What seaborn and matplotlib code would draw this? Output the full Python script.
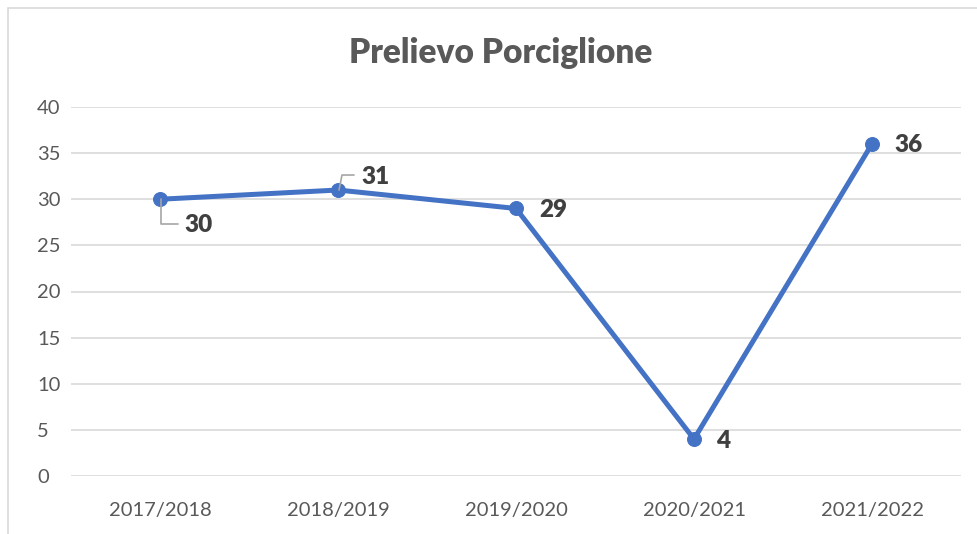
import matplotlib
matplotlib.use("Agg")
import matplotlib.pyplot as plt
import seaborn as sns
import pandas as pd
from matplotlib.patches import Rectangle

stagioni = ["2017/2018", "2018/2019", "2019/2020", "2020/2021", "2021/2022"]
prelievo = [30, 31, 29, 4, 36]
y_ticks = [0, 5, 10, 15, 20, 25, 30, 35, 40]

sns.set_theme(style="white")
plt.rcParams['font.family'] = ['Lato', 'DejaVu Sans']

df = pd.DataFrame({"stagione": stagioni, "prelievo": prelievo})

fig = plt.figure(figsize=(9.77, 5.34), dpi=100)
ax = fig.add_axes([71/977, 58/534, 890/977, 369/534])

blue = "#4472C4"
sns.lineplot(data=df, x="stagione", y="prelievo", ax=ax, color=blue, linewidth=3.6,
             marker="o", markersize=10, markeredgecolor=blue, sort=False, zorder=3)

ax.set_xlim(-0.5, len(stagioni) - 0.5)
ax.set_ylim(0, 40)
ax.set_yticks(y_ticks)
ax.set_yticklabels([str(t) for t in y_ticks])
ax.yaxis.grid(True, color="#D9D9D9", linewidth=1.2)
ax.xaxis.grid(False)
for s in ax.spines.values():
    s.set_visible(False)
ax.set_xlabel("")
ax.set_ylabel("")
ax.tick_params(axis="both", length=0, labelsize=14.5, labelcolor="#595959")
ax.tick_params(axis="x", pad=19)
ax.tick_params(axis="y", pad=24.5)
for lab in ax.get_yticklabels():
    lab.set_horizontalalignment("left")

fig.suptitle("Prelievo Porciglione", x=0.512, y=0.93, fontsize=24, fontweight="heavy",
             color="#595959")

# data labels
lab_kw = dict(fontsize=17.5, fontweight="heavy", color="#404040", va="center", ha="left")
offsets = [(24, -26), (23, 13), (23, -2), (22, -2), (22, -1)]
for i, (v, (dx, dy)) in enumerate(zip(prelievo, offsets)):
    ax.annotate(str(v), xy=(i, v), xytext=(dx, dy), textcoords="offset pixels", **lab_kw)

# leader lines for first two labels (pixel offsets)
lc = "#A6A6A6"
def leader(i, v, pts):
    base = ax.transData.transform((i, v))
    xs = [base[0] + p[0] for p in pts]
    ys = [base[1] + p[1] for p in pts]
    fig.lines.append(plt.Line2D(xs, ys, transform=None, color=lc, linewidth=1.2, zorder=2))

leader(0, prelievo[0], [(1, 0), (1, -25), (18, -25)])
leader(1, prelievo[1], [(1, 0), (4, 15), (16, 15)])

# chart border
fig.patches.append(Rectangle((8/977, -0.1), 1.2, (534-8)/534 + 0.1, transform=fig.transFigure,
                             fill=False, edgecolor="#D9D9D9", linewidth=1.2))

fig.savefig("out.png", dpi=100)
